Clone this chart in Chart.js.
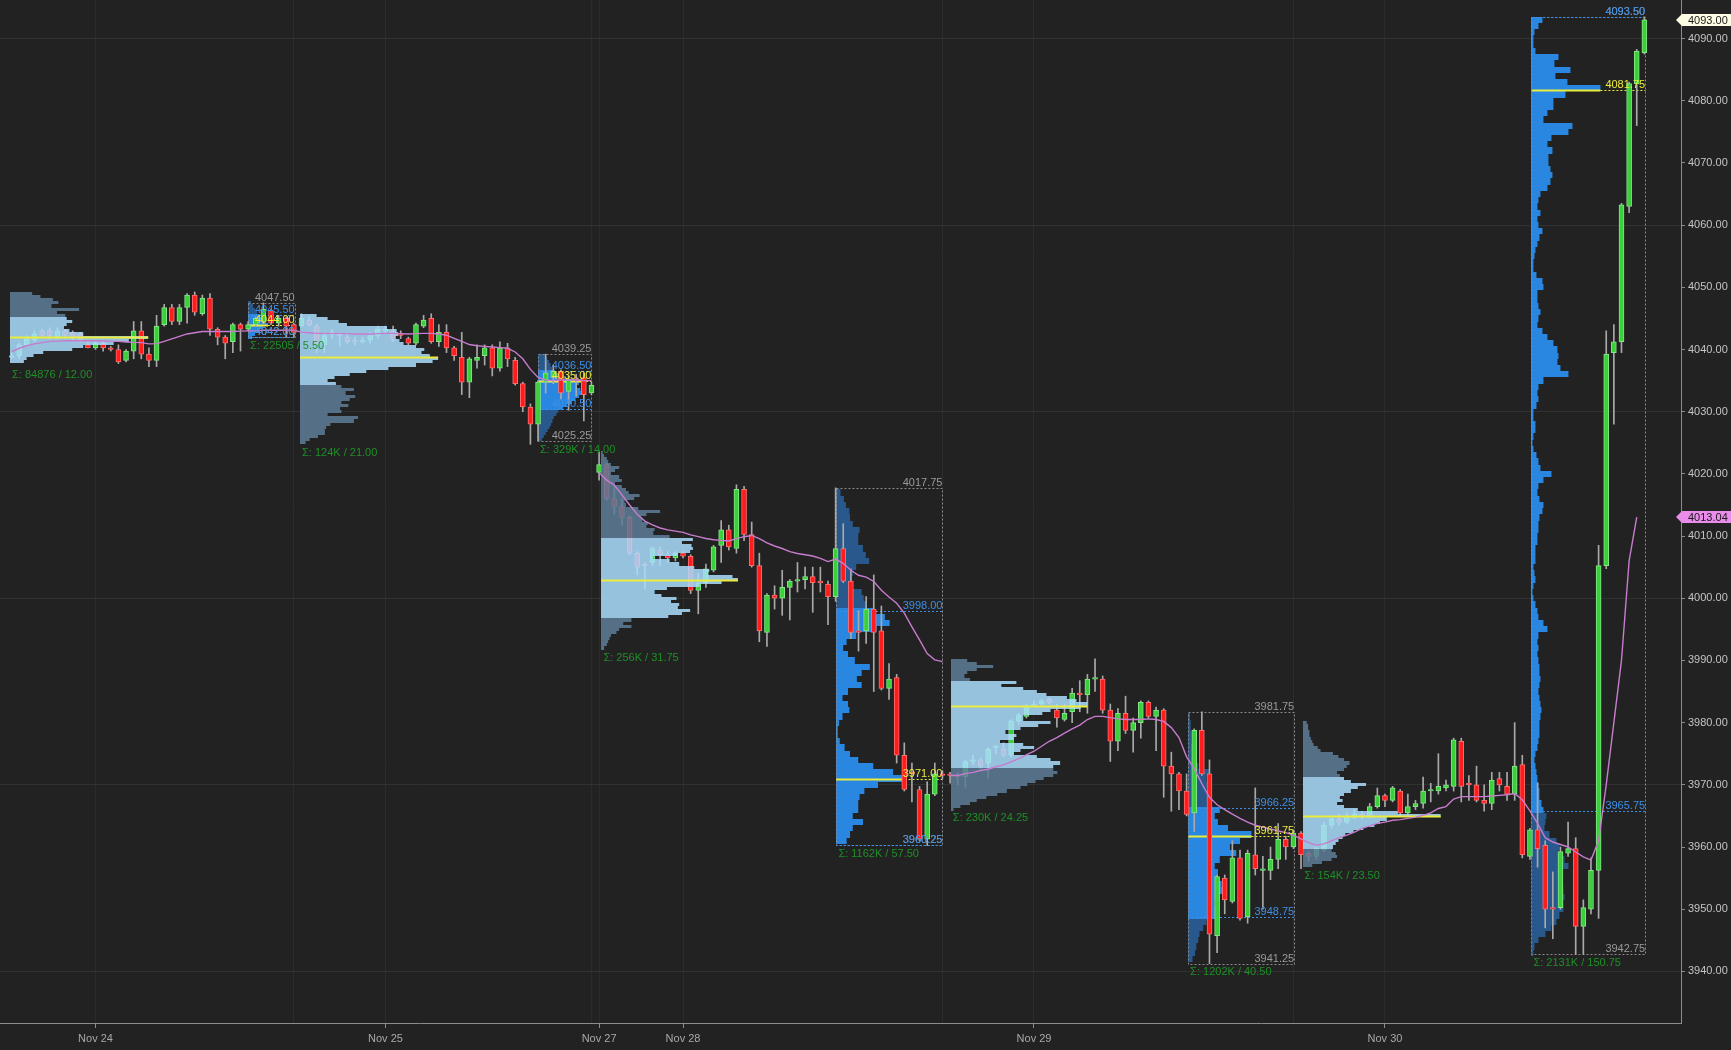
<!DOCTYPE html>
<html>
<head>
<meta charset="utf-8">
<title>ES 30 min - volume profile</title>
<script src="https://cdn.jsdelivr.net/npm/chart.js@4.4.1/dist/chart.umd.min.js"></script>
<style>
  html, body { margin: 0; padding: 0; background: #222; }
  #wrap { position: relative; width: 1731px; height: 1050px; }
</style>
</head>
<body>
<div id="wrap"><canvas id="chart"></canvas></div>
<script>
/* ---------------------------------------------------------- */
/* DATA                                                         */
/* ---------------------------------------------------------- */
// 30 minute bars, first one is bar #1 (Nov 23 evening session)
const firstBar = 1;
// [open, high, low, close]
const bars = [
  [4038.75,4039.5,4038.5,4039.0],[4039.0,4041.0,4038.5,4040.75],[4040.75,4042.25,4040.5,4041.75],
  [4041.5,4043.0,4041.25,4042.5],[4043.0,4043.25,4042.0,4042.25],[4043.0,4043.5,4041.75,4042.25],
  [4042.0,4043.5,4041.75,4043.0],[4043.0,4043.25,4041.75,4042.25],[4042.75,4043.0,4041.5,4042.0],
  [4042.5,4042.75,4041.25,4041.5],                                                    // 10
  [4040.75,4041.25,4040.25,4040.25],[4040.25,4041.25,4040.0,4041.0],[4041.0,4041.25,4039.75,4040.25],
  [4040.25,4040.5,4039.75,4040.0],[4040.0,4040.75,4037.75,4038.0],[4038.25,4040.0,4038.0,4039.75],
  [4039.75,4044.5,4038.5,4043.0],[4043.0,4044.5,4038.5,4039.25],[4039.25,4040.25,4037.25,4038.25],
  [4038.25,4045.5,4037.25,4043.75],                                                   // 20
  [4044.0,4047.25,4043.75,4046.75],[4046.75,4047.25,4044.0,4044.5],[4044.5,4047.25,4044.0,4046.75],
  [4046.75,4049.0,4044.25,4048.75],[4048.75,4049.25,4045.5,4046.0],[4045.75,4048.75,4045.5,4048.25],
  [4048.25,4049.0,4042.25,4043.25],[4043.25,4043.5,4040.75,4042.0],[4042.0,4042.25,4038.5,4041.0],
  [4041.25,4044.25,4039.5,4044.0],                                                    // 30
  [4044.0,4044.25,4039.75,4043.25],[4043.25,4044.5,4043.0,4044.0],[4044.0,4045.25,4043.75,4045.0],
  [4044.5,4047.5,4044.0,4046.5],[4046.25,4046.5,4044.0,4044.25],[4044.25,4045.5,4043.75,4045.0],
  [4045.0,4045.25,4042.0,4043.75],[4044.0,4044.25,4042.0,4042.75],[4043.75,4045.75,4043.75,4045.0],
  [4044.75,4045.25,4043.75,4044.0],                                                   // 40
  [4043.75,4044.0,4039.5,4041.0],[4040.75,4042.75,4039.5,4042.25],[4042.5,4043.25,4041.75,4042.75],
  [4042.5,4042.75,4040.5,4042.25],[4042.0,4042.5,4041.0,4041.25],[4041.5,4042.0,4040.75,4041.25],
  [4041.25,4042.0,4041.0,4041.5],[4041.5,4042.75,4041.0,4042.25],[4042.25,4043.75,4041.75,4043.25],
  [4043.0,4043.75,4042.5,4043.25],                                                    // 50
  [4043.0,4043.75,4041.25,4041.5],[4042.5,4043.0,4041.75,4042.25],[4041.75,4042.0,4040.75,4041.0],
  [4041.0,4044.25,4040.75,4044.0],[4043.75,4045.5,4043.5,4044.75],[4045.0,4045.75,4041.0,4041.25],
  [4041.25,4044.0,4040.5,4042.75],[4042.75,4044.0,4039.5,4040.25],[4040.25,4040.5,4038.25,4039.0],
  [4038.75,4042.75,4032.75,4034.75],                                                  // 60
  [4034.75,4038.75,4032.25,4038.5],[4038.25,4040.75,4037.0,4038.75],[4039.0,4040.75,4037.5,4040.25],
  [4040.25,4040.75,4035.75,4037.0],[4037.0,4041.25,4036.5,4040.25],[4040.25,4041.0,4037.25,4038.5],
  [4038.25,4038.75,4034.25,4034.5],[4034.5,4034.75,4030.0,4030.75],[4030.75,4031.25,4024.75,4028.0],
  [4028.0,4035.0,4025.25,4034.75],                                                    // 70
  [4034.75,4039.25,4033.0,4036.25],[4035.5,4037.5,4034.5,4036.5],[4036.5,4036.75,4032.0,4033.0],
  [4033.25,4035.75,4030.25,4035.25],[4035.25,4036.0,4032.5,4035.0],[4035.5,4036.25,4028.5,4032.75],
  [4033.0,4034.75,4032.75,4034.25],[4020.25,4023.5,4019.0,4021.5],[4021.5,4021.75,4015.75,4016.0],
  [4016.0,4018.0,4013.5,4014.75],                                                     // 80
  [4014.75,4016.0,4011.75,4013.0],[4013.0,4013.25,4007.0,4007.25],[4007.25,4007.5,4003.75,4005.0],
  [4005.5,4005.75,4001.5,4005.25],[4005.75,4008.25,4005.25,4008.0],[4007.75,4008.25,4005.25,4007.0],
  [4007.0,4007.5,4005.75,4006.5],[4006.5,4007.5,4006.0,4007.25],[4007.25,4007.5,4006.5,4006.75],
  [4006.75,4007.0,4000.75,4001.25],                                                   // 90
  [4001.25,4004.0,3997.5,4002.5],[4002.5,4005.5,4001.75,4004.75],[4004.5,4008.5,4004.25,4008.25],
  [4008.5,4012.5,4005.75,4011.0],[4011.0,4011.75,4007.75,4008.25],[4008.0,4018.25,4007.25,4017.5],
  [4017.5,4018.0,4009.25,4010.25],[4010.25,4012.25,4005.0,4005.25],[4005.25,4007.25,3993.0,3994.75],
  [3994.5,4000.75,3992.25,4000.5],                                                    // 100
  [4000.5,4002.0,3998.25,4000.0],[4000.0,4004.5,3997.25,4001.75],[4001.75,4003.0,3996.5,4002.75],
  [4002.75,4005.75,4001.0,4003.0],[4003.0,4005.0,4001.5,4003.5],[4003.5,4005.0,3997.75,4002.5],
  [4002.75,4005.0,4001.0,4002.5],[4002.25,4002.75,3995.75,4000.25],[4000.25,4017.75,3999.5,4008.0],
  [4008.0,4012.0,4002.5,4002.75],                                                     // 110
  [4002.75,4004.75,3993.5,3994.5],[3994.75,3998.0,3991.5,3994.5],[3994.75,4000.25,3992.75,3998.25],
  [3998.25,4003.75,3985.0,3994.5],[3994.75,3998.75,3985.25,3985.5],[3985.5,3989.5,3983.75,3987.0],
  [3987.25,3987.75,3973.5,3974.75],[3974.75,3976.75,3969.0,3969.25],[3972.0,3973.5,3967.25,3971.75],
  [3969.25,3969.75,3961.0,3961.25],                                                   // 120
  [3961.25,3970.5,3960.25,3968.5],[3968.5,3973.5,3968.25,3971.75],[3971.75,3972.25,3971.0,3971.5],
  [3971.75,3972.0,3970.25,3971.5],[3971.5,3972.0,3970.0,3971.25],[3971.25,3974.0,3969.5,3973.75],
  [3973.75,3974.75,3973.25,3974.0],[3974.0,3974.25,3972.5,3973.0],[3973.5,3976.0,3971.0,3975.75],
  [3976.0,3976.25,3975.0,3976.25],                                                    // 130
  [3975.75,3976.75,3974.5,3974.75],[3974.75,3980.5,3974.5,3980.25],[3980.25,3981.5,3979.75,3981.25],
  [3981.0,3983.0,3980.75,3982.75],[3982.75,3983.5,3982.5,3983.0],[3983.0,3983.75,3982.75,3983.5],
  [3983.75,3984.0,3983.0,3983.25],[3982.0,3983.0,3979.25,3980.75],[3980.5,3983.0,3980.25,3981.5],
  [3981.75,3985.5,3980.0,3984.75],                                                    // 140
  [3984.75,3986.75,3981.75,3984.5],[3984.5,3987.75,3981.5,3987.0],[3987.0,3990.25,3985.0,3987.25],
  [3987.0,3987.5,3981.5,3982.0],[3982.0,3983.0,3973.75,3977.0],[3977.0,3982.25,3975.5,3981.5],
  [3981.5,3984.25,3978.25,3978.75],[3978.75,3980.75,3975.25,3980.0],[3980.0,3983.5,3977.5,3983.25],
  [3983.25,3983.5,3980.75,3981.0],                                                    // 150
  [3981.0,3982.5,3975.5,3982.0],[3982.0,3982.25,3968.0,3973.0],[3973.0,3975.25,3965.75,3971.75],
  [3971.75,3972.0,3966.0,3969.0],[3969.0,3971.75,3965.0,3965.25],[3965.5,3979.0,3962.5,3978.75],
  [3978.75,3981.75,3971.5,3971.75],[3971.75,3974.0,3941.25,3946.0],[3945.75,3955.5,3943.0,3955.25],
  [3955.0,3955.5,3949.25,3951.5],                                                     // 160
  [3951.25,3961.0,3951.0,3958.25],[3958.25,3959.5,3948.25,3948.5],[3948.75,3959.5,3947.75,3959.0],
  [3958.75,3969.5,3955.5,3956.5],[3956.25,3958.5,3950.0,3956.5],[3956.25,3960.0,3954.75,3958.0],
  [3958.0,3963.75,3956.5,3961.25],[3961.25,3961.75,3958.0,3960.0],[3960.0,3962.75,3959.75,3962.25],
  [3962.25,3962.5,3956.5,3958.75],                                                    // 170
  [3959.0,3959.25,3957.75,3958.5],[3958.5,3960.0,3958.0,3959.75],[3959.5,3964.0,3959.25,3963.5],
  [3963.5,3965.0,3963.0,3964.5],[3964.5,3965.25,3963.5,3964.0],[3964.0,3965.5,3963.75,3964.75],
  [3964.75,3966.0,3964.5,3965.25],[3965.25,3965.75,3964.5,3965.0],[3965.0,3967.0,3964.75,3966.5],
  [3966.5,3969.5,3966.25,3968.25],                                                    // 180
  [3968.25,3968.5,3966.5,3967.5],[3967.5,3969.75,3967.25,3969.5],[3969.0,3969.25,3965.0,3965.5],
  [3965.5,3968.5,3965.0,3966.5],[3966.5,3967.5,3966.0,3967.0],[3967.0,3971.25,3966.25,3969.0],
  [3969.0,3970.25,3967.25,3969.25],[3969.0,3975.0,3968.5,3969.75],[3969.5,3970.75,3969.0,3970.0],
  [3969.75,3977.5,3969.0,3977.25],                                                    // 190
  [3977.0,3977.5,3967.25,3969.75],[3970.25,3971.5,3967.5,3970.0],[3970.0,3973.0,3967.25,3967.5],
  [3967.5,3970.0,3965.75,3967.0],[3967.0,3972.0,3966.0,3970.75],[3971.0,3972.0,3969.0,3970.0],
  [3969.75,3972.0,3967.5,3968.5],[3968.5,3980.0,3967.5,3973.0],[3973.25,3974.75,3958.25,3958.75],
  [3958.5,3963.0,3958.0,3962.75],                                                     // 200
  [3962.75,3970.25,3956.75,3959.75],[3960.25,3961.0,3947.0,3950.0],[3950.25,3956.0,3945.25,3950.0],
  [3950.25,3960.0,3950.0,3959.25],[3959.0,3964.0,3958.5,3959.75],[3959.75,3961.5,3942.75,3947.25],
  [3947.25,3951.5,3942.75,3950.25],[3950.0,3958.25,3949.25,3956.25],[3956.25,4008.5,3948.5,4005.25],
  [4005.25,4043.0,4004.75,4039.25],                                                   // 210
  [4039.5,4044.0,4028.0,4041.25],[4041.25,4063.5,4039.5,4063.25],[4063.0,4083.0,4062.0,4082.75],
  [4082.75,4088.25,4076.0,4088.0],[4087.75,4093.5,4087.5,4093.0]                      // 215
];

// session VWAP per bar (null = not drawn), restarts at these bars
const vwap = [
  4039.6,4040.2,4040.6,4040.9,4041.1,4041.3,4041.35,4041.4,4041.4,4041.4,
  4041.4,4041.4,4041.4,4041.3,4041.3,4041.2,4041.15,4041.1,4040.9,4040.95,
  4041.3,4041.7,4042.1,4042.5,4042.7,4042.9,4042.9,4042.9,4042.9,4042.9,
  4042.95,4043.0,4043.0,4043.1,4043.1,4043.1,4043.1,4043.1,4042.8,4042.7,
  4042.6,4042.6,4042.6,4042.6,4042.55,4042.5,4042.5,4042.5,4042.55,4042.6,
  4042.6,4042.55,4042.5,4042.55,4042.6,4042.6,4042.5,4042.3,4041.8,4041.3,
  4040.8,4040.6,4040.5,4040.4,4040.3,4040.2,4039.6,4038.5,4036.8,4035.5,
  4035.1,4035.0,4035.1,4035.1,4035.1,4035.0,4035.0,4020.2,4019.0,4018.2,
  4016.6,4015.0,4013.5,4012.4,4011.8,4011.3,4011.0,4010.8,4010.6,4010.2,
  4009.9,4009.6,4009.4,4009.3,4009.2,4009.6,4009.9,4010.1,4009.6,4008.9,
  4008.4,4008.0,4007.5,4007.2,4007.0,4006.8,4006.4,4005.9,4006.3,4005.6,
  4004.5,4003.7,4003.4,4002.7,4001.3,4000.2,3999.2,3997.6,3995.4,3993.3,
  3991.1,3990.1,3989.8,3971.5,3971.5,3971.8,3972.0,3972.3,3972.5,3972.9,
  3973.2,3973.7,3974.2,3974.8,3975.4,3976.2,3977.0,3977.6,3978.3,3979.0,
  3979.6,3980.5,3981.0,3981.0,3980.8,3980.6,3980.5,3980.5,3980.5,3980.6,
  3980.5,3980.2,3979.2,3977.6,3974.5,3972.6,3970.2,3968.0,3966.8,3966.0,
  3965.3,3964.6,3964.0,3963.5,3963.2,3962.9,3962.6,3962.3,3961.9,3961.3,
  3960.7,3960.3,3960.5,3961.0,3961.5,3961.9,3962.4,3963.0,3963.4,3963.8,
  3964.0,3964.3,3964.4,3964.6,3964.8,3965.1,3965.5,3966.2,3966.5,3967.7,
  3968.1,3968.1,3968.1,3968.1,3968.2,3968.3,3968.4,3968.6,3967.6,3965.8,
  3963.8,3961.5,3960.8,3960.4,3960.0,3959.2,3958.4,3957.9,3961.0,3970.0,
  3980.0,3990.0,4006.0,4013.04,null
];
const vwapResets = [78, 124];

// axis ticks
const yTicks = [3940,3950,3960,3970,3980,3990,4000,4010,4020,4030,4040,4050,4060,4070,4080,4090];
const yGrid = [3940,3970,4000,4030,4060,4090];
const dayTicks = [12, 50, 78, 89, 135, 181];
const dayLabels = ['Nov 24', 'Nov 25', 'Nov 27', 'Nov 28', 'Nov 29', 'Nov 30'];
const sessionBreaks = [38, 77, 123, 169];

// volume profiles (eth = overnight, rth = day session)
const profKind  = ['eth','rth','eth','rth','eth','rth','eth','rth','eth','rth'];
const profStart = [0.8, 32.0, 38.8, 70.0, 78.3, 109.1, 124.1, 155.2, 170.2, 200.2];
const profEnd   = [null, 38.1, null, 77.0, null, 123.0, null, 169.1, null, 215.1];
const profBinLo = [4038.0, 4042.0, 4025.0, 4025.5, 3992.0, 3961, 3966.0, 3942, 3957.0, 3943];
const profStep  = [0.5, 0.5, 0.5, 0.5, 0.5, 1, 0.5, 1, 0.5, 1];
const profHigh  = [4049.25, 4047.5, 4045.75, 4039.25, 4023.5, 4017.75, 3990.25, 3981.75, 3980.25, 4093.5];
const profLow   = [4037.25, 4042.0, 4024.75, 4025.25, 3991.75, 3960.25, 3966.0, 3941.25, 3956.75, 3942.75];
const profPoc   = [4042.0, 4044.0, 4038.75, 4035.0, 4003.0, 3971.0, 3982.75, 3961.75, 3965.0, 4081.75];
const profVah   = [4045.0, 4045.5, 4045.5, 4036.5, 4009.5, 3998.0, 3986.5, 3966.25, 3971.0, 4093.5];
const profVal   = [4038.0, 4042.0, 4034.5, 4030.5, 3997.0, 3960.25, 3973.0, 3948.75, 3960.0, 3965.75];
const profTotal = ['84876', '22505', '124K', '329K', '256K', '1162K', '230K', '1202K', '154K', '2131K'];

const p1Vol = [10,12,17,24,45,53,75,86,100,53,43,39,41,45,41,40,34,50,30,35,31,22,16];
const p2Vol = [20,35,55,75,100,85,70,60,45,35,25,15];
const p3Vol = [4,7,13,18,18,19,22,39,42,20,30,29,35,30,36,40,33,39,30,26,20,25,36,48,64,
               84,96,100,94,88,90,84,75,72,69,71,70,63,34,28,20,12];
const p4Vol = [8,12,16,20,24,27,30,33,38,42,52,60,70,78,85,92,88,80,85,100,55,42,35,29,26,23,19,16];
const p5Vol = [2,4,5,6,7,11,13,22,16,22,49,59,65,56,57,51,55,44,39,48,72,88,100,96,78,
               79,68,57,50,38,56,65,67,66,59,67,50,38,39,33,34,30,29,33,43,27,18,17,24,28,
               20,18,15,10,15,13,7,10,13,7,5,4,2,1];
const p6Vol = [15,20,24,39,24,32,32,34,41,61,100,83,54,32,20,12,5,2,2,4,
               9,19,17,9,17,37,30,37,49,27,17,10,15,29,59,78,71,54,44,40,
               37,22,23,24,29,48,43,39,32,32,34,24,20,19,14,11,6];
const p7Vol = [2,7,14,19,26,34,41,51,56,62,68,75,78,75,75,80,73,63,46,51,61,53,36,46,48,
               40,51,64,73,53,53,67,73,95,100,92,85,70,63,53,37,48,14,10,12,19,31,19,12];
const p8Vol = [7,11,13,16,18,24,29,45,47,42,50,61,53,45,47,42,50,76,66,82,
               100,63,47,42,50,34,37,29,34,29,34,16,7,6,6,5,5,4,4,3];
const p9Vol = [7,14,21,25,24,21,22,24,26,29,31,37,44,52,56,61,100,69,40,30,25,29,27,30,35,
               40,46,35,30,27,25,30,32,34,30,26,22,13,11,8,7,6,5,5,4,4,3];
const p10Vol = [2,3,7,14,20,25,28,32,32,33, 32,28,27,30,37,33,27,28,25,18,
                13,14,15,12,10,8,8,7,6,5, 4,3,4,6,7,8,8,8,9,10,
                9,8,7,8,9,8,8,7,6,7, 6,7,16,12,7,6,4,2,1,2,
                4,3,2,4,4,4,6,6,7,7, 8,11,12,8,6,7,12,20,9,7,
                5,2,1,2,4,4,2,2,5,7, 6,7,12,37,29,26,27,26,22,16,
                11,6,7,9,7,6,6,12,11,5, 2,2,3,4,6,8,11,7,6,9,
                6,7,9,16,19,21,19,17,17,21, 16,20,37,41,12,16,22,22,34,69,
                36,24,39,23,27,4,2,2,3,7, 11];
const profVols = [p1Vol, p2Vol, p3Vol, p4Vol, p5Vol, p6Vol, p7Vol, p8Vol, p9Vol, p10Vol];

/* ---------------------------------------------------------- */
/* LOOK                                                          */
/* ---------------------------------------------------------- */
const profWidth = [18.1, 2.6, 18.1, 6.3, 17.9, 8.95, 17.9, 8.3, 18.1, 9.04]; // POC length in bar slots
const ethVa = 'rgba(170,222,255,0.85)';
const ethOut = 'rgba(94,124,153,0.85)';
const rthVa = 'rgb(42,135,225)';
const rthOut = 'rgb(40,88,140)';
const cGray = '#9a9a9a', cBlue = '#3d8fe6', cYellow = '#ecec3c', cGreen = '#1f8f27';
const upFill = '#3ccf3c', upEdge = '#86e686', dnFill = '#ff1c1c', dnEdge = '#ff6e6e';
const labelFont = '11px Arial';

/* ---------------------------------------------------------- */
/* DATASETS                                                      */
/* ---------------------------------------------------------- */
const wickPts = [], bodyPts = [], bodyFill = [], bodyEdge = [];
bars.forEach((b, k) => {
  const i = firstBar + k;
  const [o, h, l, c] = b;
  wickPts.push({ x: i, y: [l, h] });
  bodyPts.push({ x: i, y: [o, c] });
  const up = c >= o;
  bodyFill.push(c === o ? '#d8d8d8' : (up ? upFill : dnFill));
  bodyEdge.push(c === o ? '#d8d8d8' : (up ? upEdge : dnEdge));
});

const vwapPts = [];
vwap.forEach((v, k) => {
  const i = firstBar + k;
  if (vwapResets.includes(i)) vwapPts.push({ x: i - 0.5, y: null });
  vwapPts.push({ x: i, y: v });
});
const lastVwap = vwap.filter(v => v !== null).slice(-1)[0];
const lastClose = bars[bars.length - 1][3];

/* ---------------------------------------------------------- */
/* PROFILE DRAWING                                               */
/* ---------------------------------------------------------- */
function clipArea(chart) {
  const a = chart.chartArea;
  chart.ctx.beginPath();
  chart.ctx.rect(a.left, a.top, a.right - a.left, a.bottom - a.top);
  chart.ctx.clip();
}

function hLine(ctx, x0, x1, y, color, width, dash) {
  ctx.strokeStyle = color;
  ctx.lineWidth = width;
  ctx.setLineDash(dash || []);
  ctx.beginPath();
  ctx.moveTo(x0, y);
  ctx.lineTo(x1, y);
  ctx.stroke();
}

function drawProfiles(chart, kind) {
  const { ctx, scales: { x, y } } = chart;
  ctx.save();
  clipArea(chart);
  profKind.forEach((k, p) => {
    if (k !== kind) return;
    const vols = profVols[p], step = profStep[p];
    const maxV = Math.max(...vols);
    const x0 = Math.round(x.getPixelForValue(profStart[p]));
    vols.forEach((v, b) => {
      const price = profBinLo[p] + b * step;
      const top = Math.round(y.getPixelForValue(price + step / 2));
      const bot = Math.round(y.getPixelForValue(price - step / 2));
      const w = x.getPixelForValue(profStart[p] + v / maxV * profWidth[p]) - x0;
      const inVa = price >= profVal[p] - 1e-6 && price <= profVah[p] + 1e-6;
      if (kind === 'eth') ctx.fillStyle = inVa ? ethVa : ethOut;
      else ctx.fillStyle = inVa ? rthVa : rthOut;
      ctx.fillRect(x0, top, w, bot - top);
    });
    const pocY = Math.round(y.getPixelForValue(profPoc[p])) + 0.5;
    const pocX1 = x.getPixelForValue(profStart[p] + profWidth[p]);
    hLine(ctx, x0, pocX1, pocY, cYellow, 2);
    if (kind === 'rth') {
      const x1 = Math.round(x.getPixelForValue(profEnd[p])) + 0.5;
      hLine(ctx, pocX1, x1, pocY, cYellow, 1, [2, 2]);
      const yh = Math.round(y.getPixelForValue(profHigh[p])) + 0.5;
      const yl = Math.round(y.getPixelForValue(profLow[p])) + 0.5;
      ctx.strokeStyle = '#8a8a8a';
      ctx.lineWidth = 1;
      ctx.setLineDash([2, 2]);
      ctx.strokeRect(x0 + 0.5, yh, x1 - x0 - 0.5, yl - yh);
      hLine(ctx, x0, x1, Math.round(y.getPixelForValue(profVah[p])) + 0.5, cBlue, 1, [2, 2]);
      hLine(ctx, x0, x1, Math.round(y.getPixelForValue(profVal[p])) + 0.5, cBlue, 1, [2, 2]);
    }
  });
  ctx.restore();
}

function drawProfileText(chart) {
  const { ctx, scales: { x, y } } = chart;
  ctx.save();
  clipArea(chart);
  ctx.font = labelFont;
  profKind.forEach((k, p) => {
    const x0 = x.getPixelForValue(profStart[p]);
    if (k === 'rth') {
      const x1 = x.getPixelForValue(profEnd[p]);
      ctx.textAlign = 'right';
      ctx.textBaseline = 'alphabetic';
      const put = (v, color) => {
        ctx.fillStyle = color;
        ctx.fillText(v.toFixed(2), x1, y.getPixelForValue(v) - 2);
      };
      put(profHigh[p], cGray);
      put(profLow[p], cGray);
      put(profVah[p], cBlue);
      put(profVal[p], cBlue);
      put(profPoc[p], cYellow);
    }
    ctx.textAlign = 'left';
    ctx.textBaseline = 'top';
    ctx.fillStyle = cGreen;
    const range = (profHigh[p] - profLow[p]).toFixed(2);
    ctx.fillText('\u03a3: ' + profTotal[p] + ' / ' + range, x0 + 2, y.getPixelForValue(profLow[p]) + 3);
  });
  ctx.restore();
}

function axisMarker(chart, value, fill, text) {
  const { ctx, chartArea: a, scales: { y } } = chart;
  const yy = Math.round(y.getPixelForValue(value));
  ctx.save();
  ctx.fillStyle = fill;
  ctx.beginPath();
  ctx.moveTo(a.right - 5, yy);
  ctx.lineTo(a.right + 1, yy - 6);
  ctx.lineTo(chart.width, yy - 6);
  ctx.lineTo(chart.width, yy + 6);
  ctx.lineTo(a.right + 1, yy + 6);
  ctx.closePath();
  ctx.fill();
  ctx.fillStyle = '#1a1a1a';
  ctx.font = labelFont;
  ctx.textBaseline = 'middle';
  ctx.textAlign = 'left';
  ctx.fillText(text, a.right + 7, yy + 1);
  ctx.restore();
}

const overlay = {
  id: 'overlay',
  beforeDatasetsDraw(chart) { drawProfiles(chart, 'rth'); },
  afterDatasetDraw(chart, args) {
    // overnight profiles sit over the candles but under the VWAP line
    if (args.index === 1) drawProfiles(chart, 'eth');
  },
  afterDatasetsDraw(chart) { drawProfileText(chart); },
  afterDraw(chart) {
    axisMarker(chart, lastClose, '#fdfbe3', lastClose.toFixed(2));
    axisMarker(chart, lastVwap, '#ea8cea', lastVwap.toFixed(2));
  }
};

/* ---------------------------------------------------------- */
/* CHART                                                         */
/* ---------------------------------------------------------- */
const xGridAt = dayTicks.concat(sessionBreaks).sort((a, b) => a - b);

new Chart(document.getElementById('chart'), {
  type: 'bar',
  data: {
    datasets: [{
      type: 'line',
      label: 'VWAP',
      data: vwapPts,
      borderColor: '#c77ccd',
      borderWidth: 1.4,
      pointRadius: 0,
      spanGaps: false,
      tension: 0,
      order: 0
    }, {
      label: 'Body',
      data: bodyPts,
      backgroundColor: bodyFill,
      borderColor: bodyEdge,
      borderWidth: 1,
      borderSkipped: false,
      barThickness: 5,
      minBarLength: 1,
      grouped: false,
      order: 1
    }, {
      label: 'Wick',
      data: wickPts,
      backgroundColor: '#a9a9a9',
      barThickness: 1,
      grouped: false,
      order: 2
    }]
  },
  options: {
    responsive: true,
    maintainAspectRatio: false,
    animation: false,
    devicePixelRatio: 1,
    layout: { padding: 0 },
    plugins: { legend: { display: false }, tooltip: { enabled: false } },
    scales: {
      x: {
        type: 'linear',
        position: 'bottom',
        min: -0.52,
        max: 219.8,
        offset: false,
        grid: {
          offset: false,
          color: '#2c2c2c',
          tickLength: 5,
          tickColor: c => (c.tick && dayTicks.includes(c.tick.value)) ? '#8c8c8c' : 'rgba(0,0,0,0)'
        },
        border: { color: '#8c8c8c' },
        ticks: {
          autoSkip: false,
          maxRotation: 0,
          color: '#a8a8a8',
          padding: 4,
          font: { family: 'Arial', size: 11 },
          callback: v => {
            const k = dayTicks.indexOf(v);
            return k >= 0 ? dayLabels[k] : '';
          }
        },
        afterBuildTicks: s => { s.ticks = xGridAt.map(v => ({ value: v })); },
        afterFit: s => { s.height = 27; s.paddingLeft = 0; s.paddingRight = 0; }
      },
      y: {
        type: 'linear',
        position: 'right',
        min: 3931.7,
        max: 4096.2,
        beginAtZero: false,
        grid: {
          color: c => (c.tick && yGrid.includes(c.tick.value)) ? '#313131' : 'rgba(0,0,0,0)',
          tickColor: '#8c8c8c',
          tickLength: 4
        },
        border: { color: '#8c8c8c' },
        ticks: {
          color: '#c4c4c4',
          padding: 3,
          font: { family: 'Arial', size: 11 },
          callback: v => Number(v).toFixed(2)
        },
        afterBuildTicks: s => { s.ticks = yTicks.map(v => ({ value: v })); },
        afterFit: s => { s.width = 50; s.paddingTop = 0; s.paddingBottom = 0; }
      }
    }
  },
  plugins: [overlay]
});
</script>
</body>
</html>
